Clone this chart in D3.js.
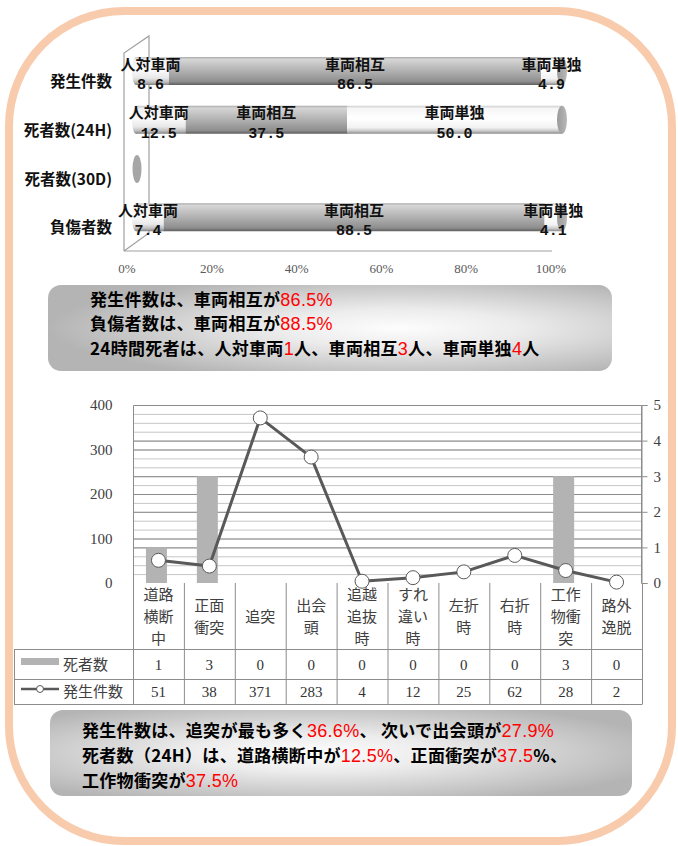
<!DOCTYPE html>
<html><head><meta charset="utf-8">
<script src="https://cdn.jsdelivr.net/npm/d3@7"></script>
<style>body{margin:0;background:#fff}svg{display:block}</style>
</head><body><svg id="c" width="678" height="846"></svg>
<script>
// ---------- data: top chart ----------
const rowCats = ["発生件数", "死者数(24H)", "死者数(30D)", "負傷者数"];
const seriesNames = ["人対車両", "車両相互", "車両単独"];
const pedVeh = [8.6, 12.5, null, 7.4];
const vehVeh = [86.5, 37.5, null, 88.5];
const singleVeh = [4.9, 50.0, null, 4.1];
const pctTicks = [0, 20, 40, 60, 80, 100];

// ---------- data: bottom chart ----------
const types = ["道路横断中", "正面衝突", "追突", "出会頭", "追越追抜時", "すれ違い時", "左折時", "右折時", "工作物衝突", "路外逸脱"];
const typeLines = [["道路","横断","中"],["正面","衝突"],["追突"],["出会","頭"],["追越","追抜","時"],["すれ","違い","時"],["左折","時"],["右折","時"],["工作","物衝","突"],["路外","逸脱"]];
const deaths = [1, 3, 0, 0, 0, 0, 0, 0, 3, 0];
const accidents = [51, 38, 371, 283, 4, 12, 25, 62, 28, 2];
const leftTicks = [0, 100, 200, 300, 400];
const rightTicks = [0, 1, 2, 3, 4, 5];
const legendNames = ["死者数", "発生件数"];

// ---------- annotation text ----------
const note1 = [
  [["発生件数は、車両相互が", 0], ["86.5%", 1]],
  [["負傷者数は、車両相互が", 0], ["88.5%", 1]],
  [["24時間死者は、人対車両", 0], ["1", 1], ["人、車両相互", 0], ["3", 1], ["人、車両単独", 0], ["4", 1], ["人", 0]]
];
const note2 = [
  [["発生件数は、追突が最も多く", 0], ["36.6%", 1], ["、 次いで出会頭が", 0], ["27.9%", 1]],
  [["死者数（24H）は、道路横断中が", 0], ["12.5%", 1], ["、正面衝突が", 0], ["37.5", 1], ["%、", 0]],
  [["工作物衝突が", 0], ["37.5%", 1]]
];

const svg = d3.select("#c");
const defs = svg.append("defs");
const JP = "'Noto Sans CJK JP','Noto Sans',sans-serif";
const SERIF = "'Liberation Serif','DejaVu Serif',serif";

function vGrad(id, stops) {
  const g = defs.append("linearGradient").attr("id", id).attr("x1", 0).attr("y1", 0).attr("x2", 0).attr("y2", 1);
  stops.forEach(s => g.append("stop").attr("offset", s[0]).attr("stop-color", s[1]));
}
vGrad("gGray", [[0, "#a8a8a8"], [0.08, "#d6d6d6"], [0.3, "#c2c2c2"], [0.6, "#a8a8a8"], [0.88, "#8e8e8e"], [1, "#5e5e5e"]]);
vGrad("gWhite", [[0, "#cfcfcf"], [0.1, "#f6f6f6"], [0.45, "#ffffff"], [0.78, "#f2f2f2"], [0.9, "#c9c9c9"], [1, "#8a8a8a"]]);
vGrad("gPed", [[0, "#c8c8c8"], [0.1, "#f0f0f0"], [0.45, "#fbfbfb"], [0.75, "#e8e8e8"], [0.9, "#bdbdbd"], [1, "#808080"]]);
const hg = defs.append("linearGradient").attr("id", "gCap").attr("x1", 0).attr("y1", 0).attr("x2", 1).attr("y2", 0);
[[0, "#9a9a9a"], [1, "#b8b8b8"]].forEach(s => hg.append("stop").attr("offset", s[0]).attr("stop-color", s[1]));
function rGrad(id, cx) {
  const g = defs.append("radialGradient").attr("id", id).attr("cx", cx).attr("cy", "50%").attr("r", "62%");
  [[0, "#fdfdfd"], [0.35, "#ececec"], [1, "#b4b4b4"]].forEach(s => g.append("stop").attr("offset", s[0]).attr("stop-color", s[1]));
}
rGrad("gBox1", "62%");
rGrad("gBox2", "45%");

// outer rounded frame
svg.append("rect").attr("x", 9).attr("y", 11).attr("width", 663).attr("height", 830)
  .attr("rx", 115).attr("ry", 115).attr("fill", "none").attr("stroke", "#f8cbad").attr("stroke-width", 8);

// ================= TOP CHART =================
const xAxisS = d3.scaleLinear().domain([0, 100]).range([127, 551]);
const xBar = d3.scaleLinear().domain([0, 100]).range([132, 562]);
const yRow = d3.scaleBand().domain(rowCats).range([57, 252]).padding(0);
const barH = 28;

const topG = svg.append("g");
const wall = topG.append("g").attr("stroke", "#a0a0a0").attr("stroke-width", 1.2).attr("fill", "none");
wall.append("path").attr("d", "M124,251 L124,53 L149,36 L149,233 L124,251");
wall.append("line").attr("x1", 124).attr("x2", 552).attr("y1", 251).attr("y2", 251);

const series = [pedVeh, vehVeh, singleVeh];
const fills = ["url(#gPed)", "url(#gGray)", "url(#gWhite)"];
const fmt = d3.format(".1f");

rowCats.forEach((cat, i) => {
  const y0 = yRow(cat);
  const g = topG.append("g");
  if (pedVeh[i] == null) {
    g.append("ellipse").attr("cx", xBar(0) + 5).attr("cy", y0 + barH / 2 + 0.5).attr("rx", 4.5).attr("ry", 14)
      .attr("fill", "#a6a6a6");
    return;
  }
  let cum = 0;
  const segs = series.map((s, k) => { const a = cum; cum += s[i]; return {k, a, b: cum, v: s[i]}; });
  segs.forEach(sg => {
    const xa = sg.k === 0 ? xBar(sg.a) + 4 : xBar(sg.a);
    g.append("rect").attr("x", xa).attr("y", y0).attr("width", xBar(sg.b) - xa + 0.5).attr("height", barH)
      .attr("fill", fills[sg.k]);
  });
  g.append("ellipse").attr("cx", xBar(0) + 4).attr("cy", y0 + barH / 2).attr("rx", 4).attr("ry", barH / 2)
    .attr("fill", fills[0]);
  g.append("ellipse").attr("cx", xBar(100)).attr("cy", y0 + barH / 2).attr("rx", 5).attr("ry", barH / 2)
    .attr("fill", "url(#gCap)");
  segs.forEach(sg => {
    const cx = (xBar(sg.a) + xBar(sg.b)) / 2;
    topG.append("text").attr("x", cx).attr("y", y0 + 12.5).attr("text-anchor", "middle")
      .attr("font-family", JP).attr("font-weight", 700).attr("font-size", 15).attr("fill", "#111")
      .text(seriesNames[sg.k]);
    topG.append("text").attr("x", cx).attr("y", y0 + 32).attr("text-anchor", "middle")
      .attr("font-family", "'Liberation Mono','DejaVu Sans Mono',monospace").attr("font-weight", 700)
      .attr("font-size", 15).attr("fill", "#111").text(fmt(sg.v));
  });
});
rowCats.forEach(cat => {
  topG.append("text").attr("x", 112).attr("y", yRow(cat) + 30).attr("text-anchor", "end")
    .attr("font-family", JP).attr("font-weight", 700).attr("font-size", 15.5).attr("fill", "#111").text(cat);
});
pctTicks.forEach(t => {
  topG.append("text").attr("x", xAxisS(t)).attr("y", 273).attr("text-anchor", "middle")
    .attr("font-family", SERIF).attr("font-size", 13).attr("fill", "#595959").text(t + "%");
});

// ================= NOTE BOXES =================
function noteBox(x, y, w, h, grad, tx, ty0, lh, lines) {
  svg.append("rect").attr("x", x).attr("y", y).attr("width", w).attr("height", h).attr("rx", 13)
    .attr("fill", grad);
  lines.forEach((ln, i) => {
    const t = svg.append("text").attr("x", tx).attr("y", ty0 + i * lh).attr("font-size", 17)
      .attr("letter-spacing", 0.3).attr("fill", "#000");
    ln.forEach(([s, hi]) => {
      const sp = t.append("tspan").text(s);
      if (hi) sp.attr("fill", "#ff0000").attr("font-family", "'Liberation Sans',Arial,sans-serif").attr("font-size", 18);
      else sp.attr("font-family", JP).attr("font-weight", 700);
    });
  });
}
noteBox(48, 285, 564, 86, "url(#gBox1)", 90, 305.5, 24.7, note1);
noteBox(50, 710, 582, 86, "url(#gBox2)", 82, 737, 25, note2);

// ================= BOTTOM CHART =================
const x = d3.scaleBand().domain(types).range([133, 642]).paddingInner(0);
const yL = d3.scaleLinear().domain([0, 400]).range([583, 405]);
const yR = d3.scaleLinear().domain([0, 5]).range([583, 405]);
const bot = svg.append("g");

const minor = d3.range(20, 400, 20);
bot.append("g").selectAll("line").data(minor).join("line")
  .attr("x1", 133).attr("x2", 642).attr("y1", d => yL(d) + 0.5).attr("y2", d => yL(d) + 0.5)
  .attr("stroke", "#c6c6c6").attr("stroke-width", 1);
const majorYs = leftTicks.filter(t => t > 0 && t < 400).map(yL).concat(rightTicks.filter(t => t > 0 && t < 5).map(yR));
bot.append("g").selectAll("line").data(majorYs).join("line")
  .attr("x1", 133).attr("x2", 642).attr("y1", d => d + 0.5).attr("y2", d => d + 0.5)
  .attr("stroke", "#8c8c8c").attr("stroke-width", 1);
bot.append("path").attr("d", `M133.5,583 L133.5,405.5 L641.5,405.5 L641.5,583`).attr("fill", "none")
  .attr("stroke", "#8c8c8c");

const bw = 21;
bot.append("g").selectAll("rect").data(types).join("rect")
  .attr("x", d => x(d) + x.bandwidth() / 2 - bw / 2 - 2)
  .attr("y", (d, i) => yR(deaths[i]))
  .attr("width", bw).attr("height", (d, i) => yR(0) - yR(deaths[i]))
  .attr("fill", "#b3b3b3");

const rAx = bot.append("g").attr("transform", "translate(641.5,0)")
  .call(d3.axisRight(yR).tickValues(rightTicks).tickSize(6).tickPadding(6).tickFormat(d3.format("d")));
rAx.select(".domain").attr("stroke", "#8c8c8c");
rAx.selectAll(".tick line").attr("stroke", "#8c8c8c");
rAx.selectAll("text").attr("font-family", SERIF).attr("font-size", 15).attr("fill", "#404040");
const lAx = bot.append("g").attr("transform", "translate(133.5,0)")
  .call(d3.axisLeft(yL).tickValues(leftTicks).tickSize(0).tickPadding(21));
lAx.select(".domain").remove();
lAx.selectAll("text").attr("font-family", SERIF).attr("font-size", 15).attr("fill", "#404040");

const cx = d => x(d) + x.bandwidth() / 2;
const line = d3.line().x((d, i) => cx(types[i])).y(d => yL(d));
bot.append("path").datum(accidents).attr("d", line).attr("fill", "none").attr("stroke", "#595959")
  .attr("stroke-width", 3).attr("stroke-linejoin", "round");
bot.append("g").selectAll("circle").data(accidents).join("circle")
  .attr("cx", (d, i) => cx(types[i])).attr("cy", d => yL(d)).attr("r", 7)
  .attr("fill", "#fff").attr("stroke", "#595959").attr("stroke-width", 1);

const tb = svg.append("g");
const tStroke = "#8c8c8c";
x.domain().concat([null]).forEach((d, i) => {
  const xx = i < types.length ? x(d) : 642;
  tb.append("line").attr("x1", xx + 0.5).attr("x2", xx + 0.5).attr("y1", 583).attr("y2", 704.5)
    .attr("stroke", tStroke);
});
[649, 679, 704].forEach(yy => {
  tb.append("line").attr("x1", 14).attr("x2", 642).attr("y1", yy + 0.5).attr("y2", yy + 0.5).attr("stroke", tStroke);
});
tb.append("line").attr("x1", 14.5).attr("x2", 14.5).attr("y1", 649).attr("y2", 704.5).attr("stroke", tStroke);

types.forEach((d, i) => {
  const lines = typeLines[i];
  const mid = 616;
  lines.forEach((ln, j) => {
    tb.append("text").attr("x", cx(d)).attr("y", mid + (j - (lines.length - 1) / 2) * 22 + 5.5)
      .attr("text-anchor", "middle").attr("font-family", JP).attr("font-size", 15).attr("fill", "#404040").text(ln);
  });
  tb.append("text").attr("x", cx(d)).attr("y", 669.5).attr("text-anchor", "middle")
    .attr("font-family", SERIF).attr("font-size", 15).attr("fill", "#333").text(deaths[i]);
  tb.append("text").attr("x", cx(d)).attr("y", 697).attr("text-anchor", "middle")
    .attr("font-family", SERIF).attr("font-size", 15).attr("fill", "#333").text(accidents[i]);
});
tb.append("rect").attr("x", 21).attr("y", 658).attr("width", 38).attr("height", 7).attr("fill", "#b3b3b3");
tb.append("line").attr("x1", 21).attr("x2", 59).attr("y1", 689).attr("y2", 689).attr("stroke", "#595959").attr("stroke-width", 2.5);
tb.append("circle").attr("cx", 40).attr("cy", 689).attr("r", 3.5).attr("fill", "#fff").attr("stroke", "#595959");
tb.append("text").attr("x", 63).attr("y", 669.5).attr("font-family", JP).attr("font-size", 15).attr("fill", "#404040").text(legendNames[0]);
tb.append("text").attr("x", 63).attr("y", 697).attr("font-family", JP).attr("font-size", 15).attr("fill", "#404040").text(legendNames[1]);
</script></body></html>
